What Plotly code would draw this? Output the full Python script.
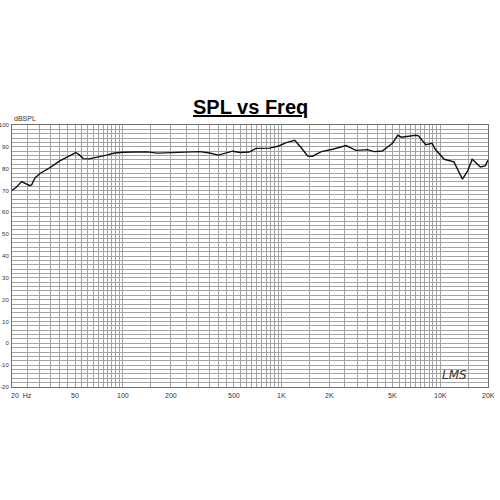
import numpy as np
import plotly.graph_objects as go

# ---- data ----
freq_hz = [20, 21.2, 23.0, 24.1, 25.7, 26.6, 27.9, 30.0, 34.7, 40.0, 45.2, 50.5, 53.4, 56.2,
           61.2, 71.3, 78.9, 88.6, 100, 120, 143, 165, 206, 252, 305, 352, 400, 491, 550,
           625, 690, 840, 960, 1070, 1210, 1330, 1460, 1570, 1780, 2100, 2550, 2940, 3480,
           3830, 4310, 5000, 5400, 5700, 6030, 7000, 7300, 8100, 8900, 9300, 10600, 11500,
           12200, 13800, 14900, 15900, 17900, 19200, 20000]
spl_db = [70.0, 71.4, 74.1, 73.2, 72.3, 72.6, 75.7, 77.8, 80.5, 83.6, 85.5, 87.4, 86.2, 84.6,
          84.5, 85.4, 86.2, 87.2, 87.5, 87.6, 87.7, 87.1, 87.4, 87.8, 87.8, 87.2, 86.2, 88.0, 87.4,
          87.6, 89.3, 89.4, 90.4, 91.9, 93.0, 89.6, 85.8, 85.7, 87.8, 88.9, 90.6, 88.4, 88.7,
          87.8, 88.1, 91.6, 95.3, 94.4, 94.7, 95.3, 95.0, 91.0, 91.6, 88.9, 84.3, 83.6,
          83.1, 75.2, 79.0, 84.3, 80.8, 81.3, 83.9]

x_grid = ([20 + 5 * i for i in range(17)] + [150 + 50 * i for i in range(18)]
          + [1500 + 500 * i for i in range(18)] + [15000, 20000])
x_label_vals = [50, 100, 200, 500, 1000, 2000, 5000, 10000, 20000]
x_label_text = ["50", "100", "200", "500", "1K", "2K", "5K", "10K", "20K"]
y_grid = list(range(-20, 101, 2))
y_label_vals = list(range(-20, 101, 10))
title_text = "SPL vs Freq"

fig = go.Figure()
fig.add_trace(go.Scatter(x=freq_hz, y=spl_db, mode="lines",
                         line=dict(color="#111111", width=1.4), showlegend=False))

ytext = [str(v) if v in y_label_vals else "" for v in y_grid]

fig.update_layout(
    width=500, height=500,
    margin=dict(l=12, r=12, t=125, b=113),
    paper_bgcolor="white", plot_bgcolor="white",
    font=dict(family="Liberation Sans, Arial, sans-serif", color="#333333"),
    xaxis=dict(type="log", range=[np.log10(20), np.log10(20000)],
               tickmode="array", tickvals=x_grid, ticktext=[""] * len(x_grid),
               showgrid=True, gridcolor="#a3a3a3", gridwidth=1,
               showline=True, linecolor="#707070", linewidth=1, mirror=True,
               ticks="", zeroline=False, automargin=False),
    yaxis=dict(range=[-20, 100], tickmode="array", tickvals=y_grid, ticktext=ytext,
               tickfont=dict(size=6, color="#333333"), ticklabelstandoff=1,
               showgrid=True, gridcolor="#a3a3a3", gridwidth=1,
               showline=True, linecolor="#707070", linewidth=1, mirror=True,
               ticks="", zeroline=False, automargin=False),
)

annotations = []
for v, t in zip(x_label_vals, x_label_text):
    annotations.append(dict(x=np.log10(v), y=-0.032, xref="x", yref="paper", text=t,
                            showarrow=False, xanchor="center", yanchor="middle",
                            font=dict(size=7, color="#333333")))
annotations.append(dict(x=np.log10(20), y=-0.032, xref="x", yref="paper", text="20  Hz",
                        showarrow=False, xanchor="left", xshift=-3, yanchor="middle",
                        font=dict(size=7, color="#333333")))
annotations.append(dict(x=0, y=1.0, xref="paper", yref="paper", text="dBSPL",
                        showarrow=False, xanchor="left", yanchor="bottom", yshift=1,
                        font=dict(size=7, color="#333333")))
annotations.append(dict(x=0.5, y=1.068, xref="paper", yref="paper",
                        text="<b><u>" + title_text + "</u></b>",
                        showarrow=False, xanchor="center", yanchor="middle",
                        font=dict(size=20, color="#000000")))
annotations.append(dict(x=0.93, y=0.045, xref="paper", yref="paper", text="<i>LMS</i>",
                        showarrow=False, xanchor="center", yanchor="middle",
                        font=dict(size=12, color="#333333", family="DejaVu Sans")))
fig.update_layout(annotations=annotations)

fig.write_html("out.html", config={"displayModeBar": False},
               post_script="document.body.style.margin='0px';")
